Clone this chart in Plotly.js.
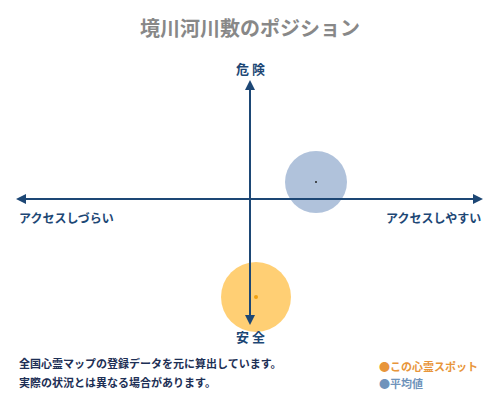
<!DOCTYPE html>
<html>
<head>
<meta charset="utf-8">
<script src="https://cdn.plot.ly/plotly-3.0.1.min.js"></script>
<style>
  html, body { margin: 0; padding: 0; background: #fff; }
  #chart { width: 500px; height: 400px; }
</style>
</head>
<body>
<div id="chart"></div>
<script>
// position scores: x = access (easy +), y = danger (+)
const names = ['この心霊スポット', '平均値'];
const accessScore = [6, 66];
const dangerScore = [-97, 18];
const legendColors = ['#e8953a', '#6f93bb'];

const titleText = '境川河川敷のポジション';
const noteLines = ['全国心霊マップの登録データを元に算出しています。', '実際の状況とは異なる場合があります。'];

const navy = '#1d4775';
const font = 'Noto Sans CJK JP';

const spot = {
    x: [accessScore[0]], y: [dangerScore[0]], mode: 'markers',
    marker: {size: 70, color: 'rgba(255,178,30,0.62)'}, hoverinfo: 'skip'
};
const avg = {
    x: [accessScore[1]], y: [dangerScore[1]], mode: 'markers',
    marker: {size: 62, color: 'rgba(80,120,175,0.45)'}, hoverinfo: 'skip'
};
const spotDot = {
    x: [accessScore[0]], y: [dangerScore[0]], mode: 'markers',
    marker: {size: 4, color: '#f0a010'}, hoverinfo: 'skip'
};
const avgDot = {
    x: [accessScore[1]], y: [dangerScore[1]], mode: 'markers',
    marker: {size: 2, color: '#222'}, hoverinfo: 'skip'
};

function arrow(x, y, ax, ay) {
    return {x: x, y: y, ax: ax, ay: ay, axref: 'x', ayref: 'y', xref: 'x', yref: 'y',
        text: '', showarrow: true, arrowhead: 2, arrowsize: 1, arrowwidth: 2, arrowcolor: navy};
}
function label(text, x, y, opts) {
    return Object.assign({x: x, y: y, xref: 'x', yref: 'y', text: text, showarrow: false,
        font: {family: font, size: 13, color: navy, weight: 'bold'}}, opts || {});
}

const annotations = [
    arrow(233, 1, -20, 1), arrow(-234, 1, 20, 1), arrow(0, 120, 0, -20), arrow(0, -125, 0, 20),
    label('危 険', 0, 132),
    label('安 全', 0, -136),
    label('アクセスしづらい', -233, -17, {xanchor: 'left', font: {family: font, size: 12, color: navy, weight: 'bold'}}),
    label('アクセスしやすい', 233, -17, {xanchor: 'right', font: {family: font, size: 12, color: navy, weight: 'bold'}}),
    label(noteLines[0], -233, -163, {xanchor: 'left', font: {family: font, size: 11, color: '#1d2f55', weight: 'bold'}}),
    label(noteLines[1], -233, -182, {xanchor: 'left', font: {family: font, size: 11, color: '#1d2f55', weight: 'bold'}}),
    label('<span style="color:' + legendColors[0] + '">●</span>' + names[0], 127, -166,
        {xanchor: 'left', font: {family: font, size: 11, color: legendColors[0], weight: 'bold'}}),
    label('<span style="color:' + legendColors[1] + '">●</span>' + names[1], 127, -183,
        {xanchor: 'left', font: {family: font, size: 11, color: legendColors[1], weight: 'bold'}})
];

const layout = {
    width: 500, height: 400,
    margin: {l: 0, r: 0, t: 0, b: 0},
    paper_bgcolor: '#fff', plot_bgcolor: '#fff',
    title: {text: titleText, x: 0.5, y: 0.945, xanchor: 'center',
        font: {family: font, size: 20, color: '#888', weight: 'bold'}},
    xaxis: {range: [-250, 250], visible: false, fixedrange: true},
    yaxis: {range: [-200, 200], visible: false, fixedrange: true},
    showlegend: false,
    annotations: annotations
};

Plotly.newPlot('chart', [spot, avg, spotDot, avgDot], layout, {displayModeBar: false, staticPlot: true});
</script>
</body>
</html>
